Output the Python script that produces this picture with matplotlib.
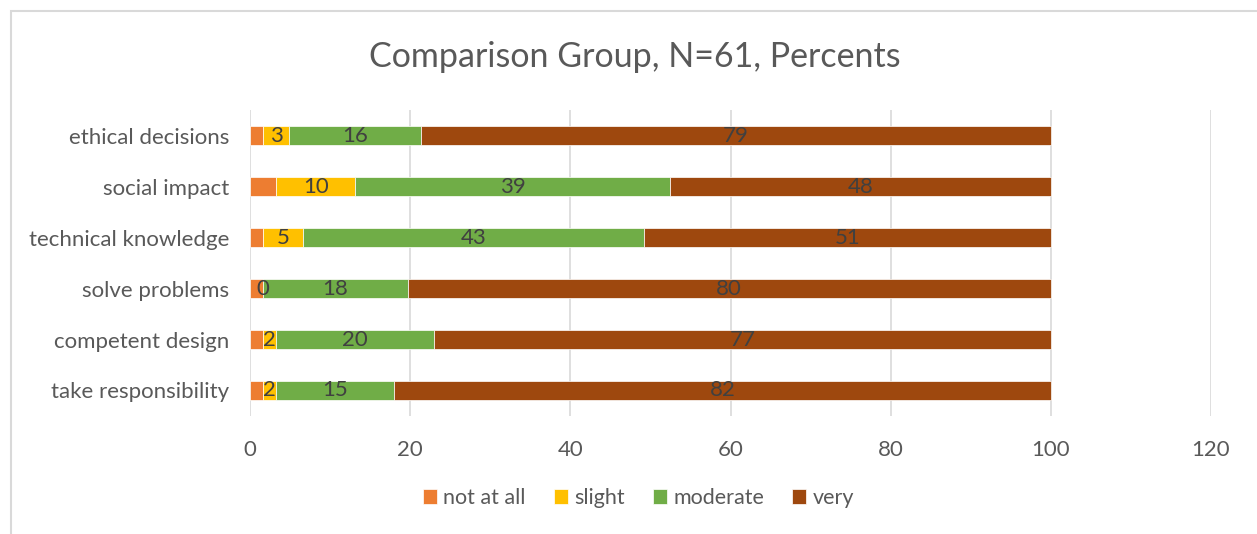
import matplotlib
matplotlib.use("Agg")
import matplotlib.pyplot as plt
from matplotlib.patches import Rectangle
import numpy as np

plt.rcParams['font.family'] = ['Lato', 'DejaVu Sans']

categories = ["ethical decisions", "social impact", "technical knowledge",
              "solve problems", "competent design", "take responsibility"]
series_names = ["not at all", "slight", "moderate", "very"]
not_at_all = [1.64, 3.28, 1.64, 1.64, 1.64, 1.64]
slight = [3.28, 9.84, 4.92, 0.0, 1.64, 1.64]
moderate = [16.39, 39.34, 42.62, 18.03, 19.67, 14.75]
very = [78.69, 47.54, 50.82, 80.33, 77.05, 81.97]
series_values = [not_at_all, slight, moderate, very]
colors = ["#ED7D31", "#FFC000", "#70AD47", "#9E480E"]
show_labels = [False, True, True, True]
xticks = [0, 20, 40, 60, 80, 100, 120]

W, H = 1257, 534
fig = plt.figure(figsize=(W / 100, H / 100), dpi=100)
ax = fig.add_axes([250 / W, 1 - 416 / H, (1211 - 250) / W, (416 - 110) / H])

y = np.arange(len(categories))[::-1]
left = np.zeros(len(categories))
for name, vals, c, lab in zip(series_names, series_values, colors, show_labels):
    vals = np.array(vals)
    ax.barh(y, vals, left=left, height=0.39, color=c, edgecolor="white",
            linewidth=0.5, label=name, zorder=3)
    if lab:
        for yi, l, v in zip(y, left, vals):
            ax.text(l + v / 2, yi, f"{v:.0f}", ha="center", va="center",
                    fontsize=16, color="#404040", zorder=4)
    left = left + vals

ax.set_xlim(0, 120)
ax.set_ylim(-0.5, len(categories) - 0.5)
ax.set_xticks(xticks)
ax.set_xticklabels([str(t) for t in xticks])
ax.set_yticks(y)
ax.set_yticklabels(categories)
ax.tick_params(axis="both", length=0, labelsize=16, colors="#595959")
ax.tick_params(axis="x", pad=17)
ax.tick_params(axis="y", pad=15)
ax.grid(axis="x", color="#D9D9D9", linewidth=1.2, zorder=0)
for s in ax.spines.values():
    s.set_visible(False)

fig.text(0.505, 1 - 57 / H, "Comparison Group, N=61, Percents", ha="center",
         va="center", fontsize=24.5, color="#595959")

leg = fig.legend(loc="center", bbox_to_anchor=(0.508, 1 - 498 / H), ncol=4,
                 frameon=False, fontsize=15.5, handlelength=0.65, handleheight=0.65,
                 handletextpad=0.3, columnspacing=1.3, labelcolor="#595959")

# chart border (left and top visible)
fig.add_artist(Rectangle((11 / W, -0.1), 1.2, 1 - 11 / H + 0.1, transform=fig.transFigure,
                         fill=False, edgecolor="#D9D9D9", linewidth=1.5))

fig.savefig("out.png", dpi=100, facecolor="white")
